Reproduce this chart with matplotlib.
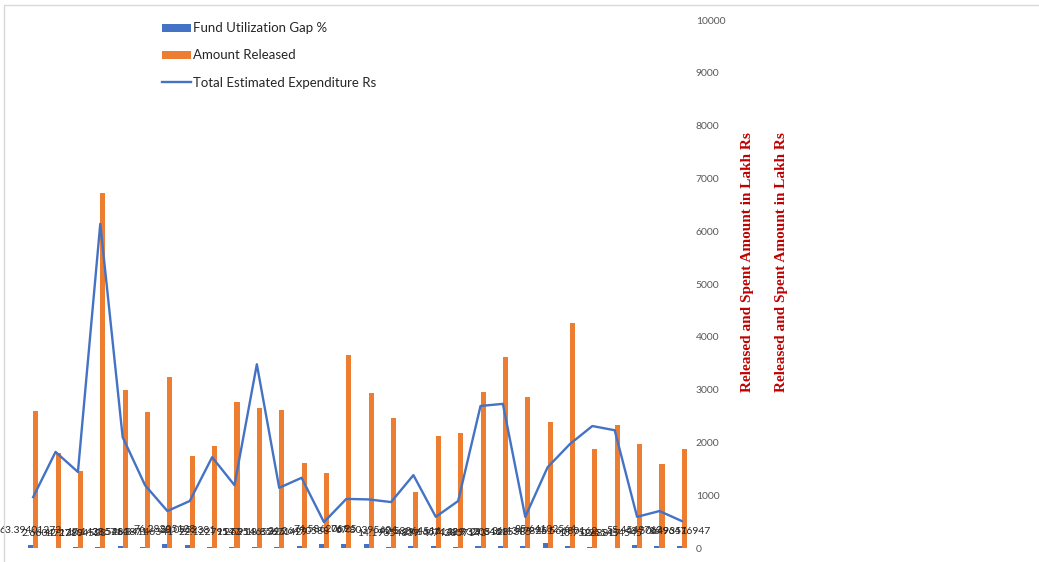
import matplotlib.pyplot as plt
import numpy as np
from matplotlib.patches import Rectangle

BLUE = "#4472C4"
ORANGE = "#ED7D31"
RED = "#C00000"

# gap % per project (drawn on the same 0-10000 scale, so they sit near the floor)
gap_pct = [63.39401273, 2.660471289, 12.27104523, 17.14285714, 33.5483871,
           26.34146341, 76.28205128, 58.0952381, 22.12279147, 15.625,
           27.91465325, 18.85671429, 34.26470588, 74.5862069, 76.25,
           67.80395604, 14.19354839, 42.58064516, 29.16571429, 9.742857143,
           28.93205128, 29.34615385, 36.43478261, 85.64102564, 45.56680162,
           10.75268817, 0.255454545, 55.4549763, 43.50649351, 36.96476947]

# Rs lakh
amount_released = [2590, 1800, 1460, 6720, 2990, 2580, 3240, 1740, 1930, 2770,
                   2650, 2610, 1610, 1420, 3650, 2940, 2460, 1060, 2120, 2180,
                   2950, 3620, 2860, 2390, 4260, 1880, 2330, 1970, 1590, 1880]

total_estimated = [965, 1820, 1440, 6140, 2100, 1190, 700, 890, 1720, 1190,
                   3480, 1140, 1330, 490, 930, 920, 870, 1380, 590, 890,
                   2690, 2730, 590, 1530, 1970, 2310, 2230, 590, 700, 510]

axis_title = "Released and Spent Amount in Lakh Rs"


def main():
    fig = plt.figure(figsize=(10.39, 5.62), dpi=100)
    ax = fig.add_axes([22 / 1039, 14 / 562, 671 / 1039, 528 / 562])

    x = np.arange(len(amount_released))
    w = 0.227
    gap_bars = ax.bar(x - w / 2, gap_pct, width=w, color=BLUE)
    rel_bars = ax.bar(x + w / 2, amount_released, width=w, color=ORANGE)
    est_line, = ax.plot(x, total_estimated, color=BLUE, lw=1.7)

    for rect, v in zip(gap_bars, gap_pct):
        ax.annotate(f"{v:.10g}", (rect.get_x() + rect.get_width() / 2, v),
                    xytext=(0, 7), textcoords="offset points",
                    ha="center", va="bottom", fontsize=7.5, family="Lato",
                    color="#262626")

    ax.set_xlim(-0.5, len(x) - 0.5)
    ax.set_ylim(0, 10000)
    ax.set_yticks(range(0, 10001, 1000))
    ax.yaxis.tick_right()
    ax.tick_params(axis="y", length=0, pad=2, labelsize=7.5, labelcolor="#595959")
    for lab in ax.get_yticklabels():
        lab.set_family("Lato")
    ax.set_xticks([])
    for s in ax.spines.values():
        s.set_visible(False)

    leg = ax.legend([gap_bars, rel_bars, est_line],
                    ["Fund Utilization Gap %", "Amount Released",
                     "Total Estimated Expenditure Rs"],
                    loc="upper left", bbox_to_anchor=(135 / 671, 1 + 3 / 528),
                    frameon=False, prop={"family": "Lato", "size": 9.5},
                    handlelength=2.2, handleheight=0.55, handletextpad=0.1,
                    labelspacing=1.15, borderaxespad=0.0)
    for t in leg.get_texts():
        t.set_color("#262626")

    for xp in (748, 781):
        fig.text(xp / 1039, 1 - 262 / 562, axis_title, rotation=90,
                 ha="center", va="center", color=RED, fontsize=11,
                 family="Liberation Serif", weight="bold")

    # light chart border along the top and left
    fig.patches.append(Rectangle((4 / 1039, -0.1), 1.2, 1 - 5 / 562 + 0.1,
                                 transform=fig.transFigure, fill=False,
                                 edgecolor="#D9D9D9", lw=1.0))

    fig.savefig("out.png", dpi=100)


if __name__ == "__main__":
    main()
